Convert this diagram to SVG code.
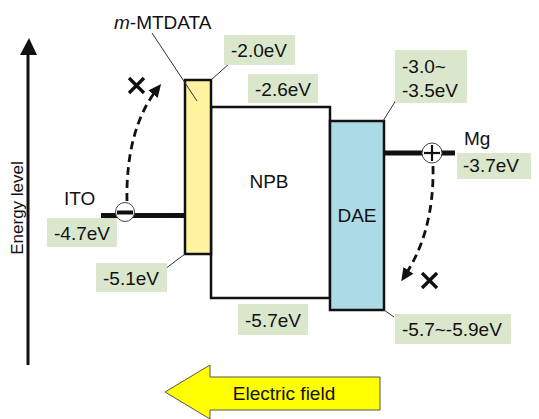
<svg xmlns="http://www.w3.org/2000/svg" width="539" height="419" viewBox="0 0 539 419">
<style>
text{font-family:"Liberation Sans",Arial,sans-serif;fill:#111;}
.lbl{font-size:19px;}
.gbox{fill:#dae7cc;stroke:none;}
.lead{stroke:#333;stroke-width:1;fill:none;}
.band{stroke:#111;stroke-width:2.5;}
.dash{stroke:#111;stroke-width:2.8;fill:none;stroke-dasharray:8,5;}
.x{stroke:#111;stroke-width:3.4;}
</style>
<defs>
<marker id="ah" markerWidth="13" markerHeight="12" refX="8" refY="6" orient="auto" markerUnits="userSpaceOnUse">
<path d="M0,0 L13,6 L0,12 Z" fill="#111"/>
</marker>
</defs>
<rect width="539" height="419" fill="#fff"/>

<g id="axis">
<line x1="28" y1="52" x2="28" y2="365" stroke="#111" stroke-width="3"/>
<path d="M20,55 L29,38 L37,55 Z" fill="#111"/>
<text x="0" y="0" transform="translate(23,208) rotate(-90)" text-anchor="middle" style="font-size:17px">Energy level</text>
</g>

<g id="npb">
<rect x="211" y="107" width="119" height="191" fill="#fff" class="band"/>
<text x="269" y="188" text-anchor="middle" class="lbl">NPB</text>
</g>
<g id="dae">
<rect x="330" y="121" width="54" height="189" fill="#acdae6" class="band"/>
<text x="357" y="222" text-anchor="middle" class="lbl">DAE</text>
</g>
<g id="mtdata">
<rect x="185" y="80" width="26" height="174" fill="#fff3a0" class="band"/>
<text x="114" y="29" class="lbl"><tspan font-style="italic">m</tspan>-MTDATA</text>
</g>

<g id="connectors">
<line class="lead" x1="152" y1="33" x2="197" y2="101"/>
<line class="lead" x1="211" y1="80" x2="230" y2="63"/>
<line class="lead" x1="383" y1="121" x2="398" y2="97"/>
<line class="lead" x1="185" y1="254" x2="165" y2="269"/>
<line class="lead" x1="384" y1="310" x2="394" y2="317"/>
<path class="dash" d="M127,201 C126,155 136,115 158,88" marker-end="url(#ah)"/>
<path class="dash" d="M433,166 C434,215 422,250 404,277" marker-end="url(#ah)"/>
</g>

<g id="ito">
<line x1="101" y1="215.5" x2="185" y2="215.5" stroke="#111" stroke-width="5"/>
<circle cx="125" cy="212" r="9.5" fill="#fff" stroke="#444" stroke-width="1"/>
<line x1="117" y1="212.5" x2="133" y2="212.5" stroke="#111" stroke-width="4"/>
<text x="64" y="205" class="lbl">ITO</text>
</g>

<g id="mg">
<line x1="384" y1="153" x2="455" y2="153" stroke="#111" stroke-width="5"/>
<circle cx="432" cy="153" r="10" fill="#fff" stroke="#444" stroke-width="1"/>
<line x1="424" y1="153" x2="440" y2="153" stroke="#111" stroke-width="2.2"/>
<line x1="432" y1="145" x2="432" y2="161" stroke="#111" stroke-width="2.2"/>
<text x="464" y="145" class="lbl">Mg</text>
</g>

<g id="cross1">
<line class="x" x1="129" y1="78" x2="144" y2="93"/>
<line class="x" x1="144" y1="78" x2="129" y2="93"/>
</g>
<g id="cross2">
<line class="x" x1="422" y1="273" x2="437" y2="288"/>
<line class="x" x1="437" y1="273" x2="422" y2="288"/>
</g>

<g id="lbl-20"><rect class="gbox" x="224" y="35" width="71" height="30"/><text x="231" y="57" class="lbl">-2.0eV</text></g>
<g id="lbl-26"><rect class="gbox" x="248" y="74" width="70" height="29"/><text x="255" y="96" class="lbl">-2.6eV</text></g>
<g id="lbl-30"><rect class="gbox" x="395" y="50" width="72" height="53"/><text x="402" y="73" class="lbl">-3.0~</text><text x="402" y="97" class="lbl">-3.5eV</text></g>
<g id="lbl-37"><rect class="gbox" x="457" y="153" width="74" height="26"/><text x="463" y="172" class="lbl">-3.7eV</text></g>
<g id="lbl-47"><rect class="gbox" x="47" y="218" width="70" height="29"/><text x="54" y="240" class="lbl">-4.7eV</text></g>
<g id="lbl-51"><rect class="gbox" x="96" y="263" width="71" height="29"/><text x="103" y="285" class="lbl">-5.1eV</text></g>
<g id="lbl-57"><rect class="gbox" x="238" y="304" width="70" height="31"/><text x="245" y="327" class="lbl">-5.7eV</text></g>
<g id="lbl-59"><rect class="gbox" x="395" y="314" width="116" height="30"/><text x="402" y="336" class="lbl">-5.7~-5.9eV</text></g>

<g id="efield">
<path d="M165,392 L210,365 L210,377 L380,377 L380,410 L210,410 L210,419 L165,392 Z" fill="#ffff00" stroke="#555" stroke-width="1"/>
<text x="284" y="400" text-anchor="middle" class="lbl">Electric field</text>
</g>
</svg>
